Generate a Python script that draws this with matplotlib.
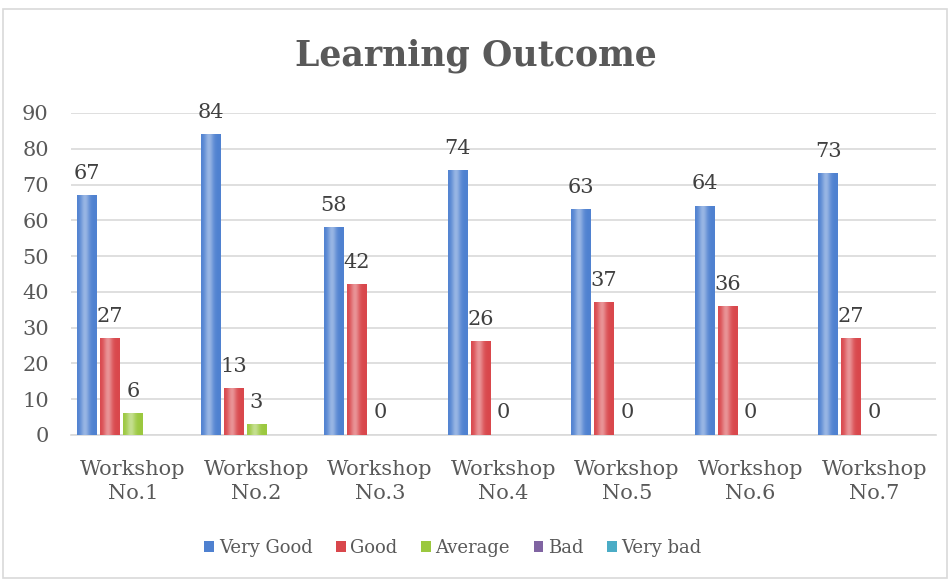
import matplotlib.pyplot as plt
import matplotlib.patches as mpatches
import numpy as np

categories = ['Workshop\nNo.1', 'Workshop\nNo.2', 'Workshop\nNo.3', 'Workshop\nNo.4',
              'Workshop\nNo.5', 'Workshop\nNo.6', 'Workshop\nNo.7']
series = ['Very Good', 'Good', 'Average', 'Bad', 'Very bad']
very_good = [67, 84, 58, 74, 63, 64, 73]
good = [27, 13, 42, 26, 37, 36, 27]
average = [6, 3, 0, 0, 0, 0, 0]
bad = [0, 0, 0, 0, 0, 0, 0]
very_bad = [0, 0, 0, 0, 0, 0, 0]
values = [very_good, good, average, bad, very_bad]
colors = ['#4F81D0', '#D9474C', '#9BC83F', '#8064A2', '#4BACC6']
labeled = [True, True, True, False, False]

plt.rcParams['font.family'] = ['DejaVu Serif']
txt = '#404040'
grey = '#595959'

fig = plt.figure(figsize=(9.51, 5.79), dpi=100)
fig.patches.append(mpatches.Rectangle((3 / 951, 1 / 579), 944 / 951, 569 / 579,
                                      transform=fig.transFigure, fill=False,
                                      edgecolor='#d9d9d9', linewidth=1.2))
ax = fig.add_axes([71 / 951, 1 - 435 / 579, 865 / 951, 322 / 579])

x = np.arange(len(categories))
slot = 0.186
width = 0.158


def lighten(c, f):
    rgb = np.array(plt.matplotlib.colors.to_rgb(c))
    return tuple(rgb + (1 - rgb) * f)


for i, (name, vals) in enumerate(zip(series, values)):
    bars = ax.bar(x + (i - 2) * slot, vals, width, color=colors[i], label=name, zorder=2)
    for b, v in zip(bars, vals):
        if v > 0:
            # horizontal shading to mimic the bevelled Excel look
            grad = np.linspace(0, 1, 40)
            shade = 0.42 * np.exp(-((grad - 0.4) ** 2) / 0.05)
            img = np.array([[lighten(colors[i], s) for s in shade]])
            ax.imshow(img, extent=(b.get_x(), b.get_x() + b.get_width(), 0, b.get_height()),
                      aspect='auto', zorder=3, interpolation='bicubic')
        if labeled[i]:
            ax.annotate(f'{v}', (b.get_x() + b.get_width() / 2, v), xytext=(0, 12),
                        textcoords='offset points', ha='center', va='baseline',
                        fontsize=15, color=txt, zorder=4, annotation_clip=False)

ax.set_xlim(-0.5, len(categories) - 0.5)
ax.set_ylim(0, 90)
ax.set_yticks(range(0, 91, 10))
ax.set_xticks(x)
ax.set_xticklabels(categories, fontsize=15, color=grey, linespacing=1.35)
ax.tick_params(axis='y', labelsize=15, labelcolor=grey, length=0, pad=16)
ax.tick_params(axis='x', length=0, pad=18)
ax.grid(axis='y', color='#d9d9d9', linewidth=1.2, zorder=0)
for s in ['top', 'right', 'left']:
    ax.spines[s].set_visible(False)
ax.spines['bottom'].set_color('#d9d9d9')
ax.spines['bottom'].set_linewidth(1.2)

fig.text(0.5, 1 - 56 / 579, 'Learning Outcome', ha='center', va='center', fontsize=25,
         fontweight='bold', color=grey)

ax.legend(loc='center', bbox_to_anchor=(0.4416, -0.351), ncol=5, frameon=False,
          fontsize=13, labelcolor=grey, handlelength=0.55, handleheight=0.55,
          handletextpad=0.25, columnspacing=1.3)

fig.savefig('out.png', dpi=100)
